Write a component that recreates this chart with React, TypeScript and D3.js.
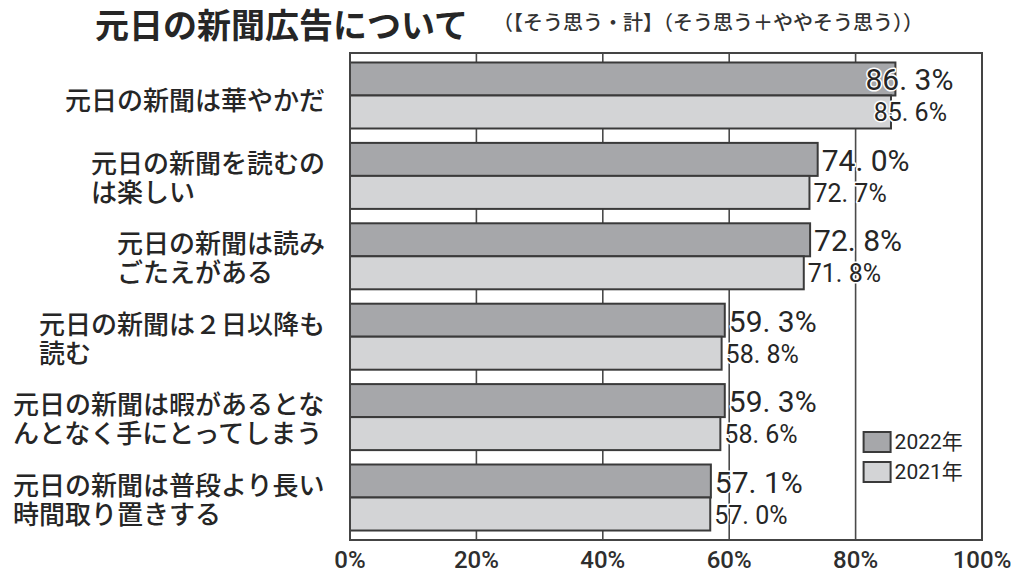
import React from 'react';
import * as d3 from 'd3';

const categories = [
  ['元日の新聞は華やかだ'],
  ['元日の新聞を読むの', 'は楽しい'],
  ['元日の新聞は読み', 'ごたえがある'],
  ['元日の新聞は２日以降も', '読む'],
  ['元日の新聞は暇があるとな', 'んとなく手にとってしまう'],
  ['元日の新聞は普段より長い', '時間取り置きする'],
];
const years = ['2022年', '2021年'];
const values2022 = [86.3, 74.0, 72.8, 59.3, 59.3, 57.1];
const values2021 = [85.6, 72.7, 71.8, 58.8, 58.6, 57.0];
const xTicks = [0, 20, 40, 60, 80, 100];

const title = '元日の新聞広告について';
const subtitle = '（【そう思う・計】（そう思う＋ややそう思う））';

const W = 1024;
const H = 582;
const plot = { left: 350, right: 982, top: 53, bottom: 540 };

const fills: Record<string, string> = { '2022年': '#a6a7aa', '2021年': '#d3d4d6' };
const ink = '#262626';
const jp = "'Noto Sans CJK JP', 'Noto Sans', sans-serif";
const num = "Roboto, 'Noto Sans CJK JP', sans-serif";

const fmt = (v: number) => d3.format('.1f')(v).replace('.', '. ') + '%';

const App: React.FC = () => {
  const x = d3.scaleLinear().domain([0, 100]).range([plot.left, plot.right]);
  const y = d3.scaleBand<number>()
    .domain(d3.range(categories.length))
    .range([plot.top, plot.bottom])
    .paddingInner(0.179)
    .paddingOuter(0.118);
  const yy = d3.scaleBand<string>().domain(years).range([0, y.bandwidth()]);

  const series = [
    { year: years[0], values: values2022, size: 30, shift: 58 },
    { year: years[1], values: values2021, size: 25, shift: 56 },
  ];

  const labelSize = 26;
  const lineGap = 29;
  const labelRight = 325;

  return (
    <svg width={W} height={H} style={{ position: 'absolute', left: 0, top: 0, background: '#fff' }}>
      {/* title */}
      <text x={95} y={38} fontFamily={jp} fontWeight="bold" fontSize={34} fill={ink}>{title}</text>
      <text x={493} y={30} fontFamily={jp} fontWeight={500} fontSize={20} fill="#333">{subtitle}</text>

      {/* grid */}
      {xTicks.slice(1, -1).map(t => (
        <line key={t} x1={x(t)} x2={x(t)} y1={plot.top} y2={plot.bottom} stroke="#4a4a4a" strokeWidth={1.6} />
      ))}

      {/* bars */}
      {series.map(s => s.values.map((v, i) => (
        <rect key={s.year + i}
          x={x(0)} y={(y(i) as number) + (yy(s.year) as number)}
          width={x(v) - x(0)} height={yy.bandwidth()}
          fill={fills[s.year]} stroke="#3a3a3a" strokeWidth={2} />
      )))}

      {/* frame */}
      <rect x={plot.left} y={plot.top} width={plot.right - plot.left} height={plot.bottom - plot.top}
        fill="none" stroke="#444" strokeWidth={2} />

      {/* value labels */}
      {series.map(s => s.values.map((v, i) => {
        const over = v > 80;
        const cy = (y(i) as number) + (yy(s.year) as number) + yy.bandwidth() / 2;
        return (
          <text key={'l' + s.year + i}
            x={over ? x(v) + s.shift : x(v) + 4} y={cy + 1}
            textAnchor={over ? 'end' : 'start'} dominantBaseline="central"
            fontFamily={num} fontSize={s.size} fill={ink}
            stroke="#fff" strokeWidth={3} strokeLinejoin="round" style={{ paintOrder: 'stroke' }}>
            {fmt(v)}
          </text>
        );
      }))}

      {/* category labels */}
      {categories.map((lines, i) => {
        const maxLen = d3.max(lines, l => l.length) as number;
        const cx = labelRight - maxLen * labelSize;
        const cy = (y(i) as number) + y.bandwidth() / 2 + (lines.length === 1 ? 3 : 0);
        return (
          <g key={'c' + i}>
            {lines.map((l, j) => (
              <text key={j} x={cx} y={cy + (j - (lines.length - 1) / 2) * lineGap}
                dominantBaseline="central" fontFamily={jp} fontWeight={500} fontSize={labelSize} fill={ink}>{l}</text>
            ))}
          </g>
        );
      })}

      {/* x axis labels */}
      {xTicks.map(t => (
        <text key={'t' + t} x={x(t)} y={560} textAnchor="middle" dominantBaseline="central"
          fontFamily={num} fontWeight={500} fontSize={24} fill="#2e2e2e">{t}%</text>
      ))}

      {/* legend */}
      {years.map((yr, k) => (
        <g key={'lg' + yr} transform={`translate(${x(80) + 8}, ${432 + k * 30})`}>
          <rect x={0} y={0} width={27} height={20} fill={fills[yr]} stroke="#3a3a3a" strokeWidth={2} />
          <text x={31} y={10} dominantBaseline="central" fontFamily={num} fontSize={21} fill={ink}>{yr}</text>
        </g>
      ))}
    </svg>
  );
};

export default App;
